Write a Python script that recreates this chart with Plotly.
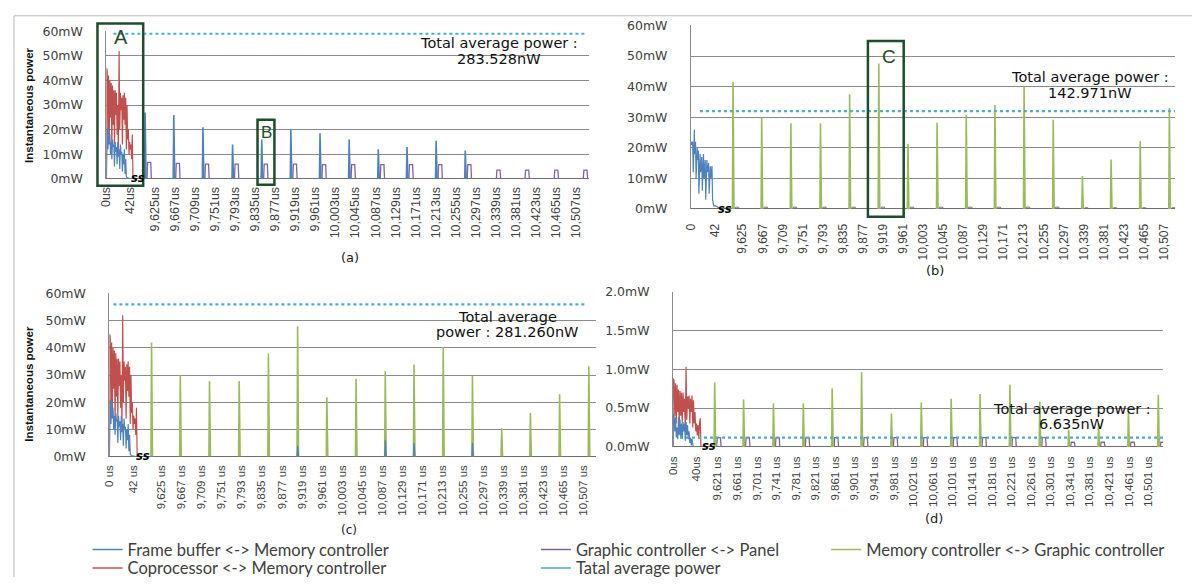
import plotly.graph_objects as go

W, H = 1192, 586

# ---------------- data ----------------
ticks_42 = [0, 42, 9625, 9667, 9709, 9751, 9793, 9835, 9877, 9919, 9961, 10003, 10045,
            10087, 10129, 10171, 10213, 10255, 10297, 10339, 10381, 10423, 10465, 10507]
ticks_40 = [0, 40, 9621, 9661, 9701, 9741, 9781, 9821, 9861, 9901, 9941, 9981, 10021,
            10061, 10101, 10141, 10181, 10221, 10261, 10301, 10341, 10381, 10421, 10461, 10501]

# event times (us) of the periodic transfers
spike_t = [9605, 9665, 9726, 9788, 9849, 9910, 9971, 10032, 10093, 10153, 10214, 10275,
           10336, 10396, 10457, 10518]
spike_t_d = [9615, 9674, 9735, 9796, 9855, 9915, 9976, 10037, 10098, 10157, 10218, 10279,
             10338, 10399, 10460, 10521]

# (a)
a_fb_spikes = [27, 26, 21, 14, 16, 20, 18.5, 16, 12, 13, 15.5, 11.5]
a_gp_pulses = [6.7, 6.3, 6, 6, 6, 6, 5.8, 5.8, 5.8, 5.8, 5.8, 5.8, 3.6, 3.6, 3.6, 3.6]
# (b)
b_mg_spikes = [41.6, 29.8, 28, 28, 37.5, 47.6, 21.3, 28.2, 30.8, 34, 40.3, 29.2, 10.8, 16.2, 22.2, 33]
b_gp_pulses = [0.6, 0.6, 0.6, 0.6, 0.6, 0.6, 0.6, 0.6, 0.6, 0.6, 0.6, 0.6, 0.4, 0.4, 0.4, 0.4]
# (c)
c_mg_spikes = [42, 30, 27.8, 27.8, 37.9, 47.9, 21.8, 28.6, 31.4, 33.9, 40.3, 29.6, 10.4, 16, 22.9, 33.2]
c_fb_spikes = [0, 0, 0, 0, 0, 4, 0, 0, 6, 5, 0, 5, 0, 0, 0, 0]
# (d)
d_mg_spikes = [0.83, 0.61, 0.56, 0.56, 0.75, 0.96, 0.43, 0.57, 0.62, 0.68, 0.80, 0.58, 0.22, 0.30, 0.46, 0.67]
d_gp_pulses = [0.12, 0.12, 0.12, 0.12, 0.12, 0.12, 0.12, 0.12, 0.12, 0.12, 0.12, 0.12, 0.06, 0.06, 0.06, 0.06]

# start-up section (0 .. ~50 us), panels (a) and (c)
ac_red_t = [0, 0.3, 1.5, 2.7, 3.9, 5.1, 6.3, 7.5, 8.7, 9.9, 11.1, 12.3, 13.5, 14.7, 15.9, 17.1,
            18.3, 19.5, 20.7, 21.9, 23.1, 24.3, 25.5, 26.7, 27.9, 29.1, 30.3, 31.5, 32.7, 33.9,
            35.1, 36.3, 37.5, 38.7, 39.9, 41.1, 42.3, 43.5, 44.7, 45.9, 47.1, 48.3, 49.0]
ac_red_v = [0, 45, 44, 20, 42, 15, 40, 25, 39, 12, 38, 22, 36, 14, 36, 26, 35, 18, 30, 10,
            52, 20, 35, 28, 33, 14, 34, 24, 35, 22, 33, 12, 30, 16, 20, 10, 15, 12, 14, 8,
            18, 0, 0]
ac_blue_t = [0, 0.3, 1.5, 2.7, 3.9, 5.1, 6.3, 7.5, 8.7, 9.9, 11.1, 12.3, 13.5, 14.7, 15.9, 17.1,
             18.3, 19.5, 20.7, 21.9, 23.1, 24.3, 25.5, 26.7, 27.9, 29.1, 30.3, 31.5, 32.7, 33.9,
             35.1, 36.3, 37.5, 40, 46]
ac_blue_v = [0, 21, 21, 12, 20, 14, 18, 10, 15, 8, 16, 13, 14, 5, 15, 11, 13, 6, 15, 9,
             12, 4, 14, 10, 11, 3, 10, 6, 12, 2, 8, 1, 0.5, 0.3, 0]
# panel (b)
b_blue_t = [0, 1, 3, 4, 6, 6.5, 8, 9, 11, 12, 13, 14, 16, 17, 19, 20, 22, 23, 25, 26, 28, 29,
            31, 32, 34, 35, 37, 38, 40, 44, 48, 52]
b_blue_v = [22, 21, 22, 12, 26, 18, 22, 10, 20, 16, 19, 5, 18, 12, 17, 6, 18, 10, 16, 3,
            16, 12, 15, 5, 14, 10, 14, 3, 1, 1, 0.5, 0]
# panel (d)
d_red_t = [0, 0.3, 1.7, 3.0, 4.3, 5.6, 6.9, 8.2, 9.5, 10.8, 12.1, 13.4, 14.7, 16.0, 17.4, 18.7,
           20.0, 21.4, 22.7, 24.0, 25.3, 26.6, 27.9, 29.2, 30.5, 31.8, 33.1, 34.4, 35.7, 37.0,
           38.3, 39.6, 40.9, 42.2, 43.5, 44.8, 46.1, 47.4, 48.7, 49.2]
d_red_v = [0, 0.88, 0.86, 0.4, 0.82, 0.3, 0.8, 0.45, 0.74, 0.25, 0.72, 0.4, 0.7, 0.3, 0.7, 0.45,
           0.62, 0.2, 1.03, 0.35, 0.65, 0.5, 0.66, 0.3, 0.62, 0.45, 0.66, 0.25, 0.6, 0.3,
           0.45, 0.2, 0.3, 0.15, 0.28, 0.1, 0.3, 0.37, 0, 0]
d_blue_t = [0, 0.3, 1.7, 3.0, 4.3, 5.6, 6.9, 8.2, 9.5, 10.8, 12.1, 13.4, 14.7, 16.0, 17.4, 18.7,
            20.0, 21.4, 22.7, 24.0, 25.3, 26.6, 27.9, 29.2, 30.5, 31.8, 33.1, 35, 38, 46]
d_blue_v = [0, 0.42, 0.4, 0.2, 0.38, 0.12, 0.25, 0.1, 0.38, 0.15, 0.35, 0.12, 0.3, 0.1, 0.32, 0.2,
            0.3, 0.08, 0.32, 0.15, 0.28, 0.1, 0.2, 0.05, 0.12, 0.02, 0.1, 0.01, 0, 0]

# total average power line (value, start us, end us)
avg_a = [59, 12.7, 10527]
avg_b = [32, 15.7, 10530]
avg_c = [56, 6.9, 10513]
avg_d = [0.12, 12.1, 10539]

avg_text = ["Total average power :", "283.528nW", "Total average power :", "142.971nW",
            "Total average", "power : 281.260nW", "Total average power :", "6.635nW"]

# ---------------- styles ----------------
C_FB = "#4F81BD"
C_CP = "#C0504D"
C_GP = "#8064A2"
C_MG = "#9BBB59"
C_AV = "#4BACC6"
GRID = "#8a8a8a"
TXT = "#404040"

NAMES = {"fb": "Frame buffer <-> Memory controller", "cp": "Coprocessor <-> Memory controller",
         "gp": "Graphic controller <-> Panel", "mg": "Memory controller <-> Graphic controller",
         "av": "Tatal average power"}

# broken time axis: t -> display position
PANELS = {
    "a": dict(k1=1.15, G=101.0, T0=9625, xmax=1009, dom_x=(100, 585), dom_y=(24, 176), ymax=60, xpad=2),
    "b": dict(k1=1.19, G=108.0, T0=9625, xmax=1013, dom_x=(688, 1175), dom_y=(18, 207), ymax=60, xpad=9),
    "c": dict(k1=1.20, G=108.0, T0=9625, xmax=1015, dom_x=(103, 592), dom_y=(294, 462), ymax=60, xpad=3),
    "d": dict(k1=1.17, G=91.0, T0=9621, xmax=1001, dom_x=(670, 1163), dom_y=(292, 452), ymax=2, xpad=4),
}
AX = {"a": ("x", "y"), "b": ("x2", "y2"), "c": ("x3", "y3"), "d": ("x4", "y4")}


def disp(p, ts):
    P = PANELS[p]
    out = []
    for t in ts:
        if t is None:
            out.append(None)
        elif t < 1000:
            out.append(t * P["k1"])
        else:
            out.append(P["G"] + (t - P["T0"]))
    return out


def spikes(times, heights, before=1.2, after=2.0):
    xs, ys = [], []
    for t, h in zip(times, heights):
        if h <= 0:
            continue
        xs += [t - before, t, t + after, None]
        ys += [0, h, 0, None]
    return xs, ys


def pulses(times, heights, offset=4.0, width=9.0):
    xs, ys = [], []
    for t, h in zip(times, heights):
        s = t + offset
        xs += [s, s + 1.2, s + width - 1.2, s + width, None]
        ys += [0, h, h, 0, None]
    return xs, ys


fig = go.Figure()


def add(p, xs, ys, color, width=1.4, dash=None):
    xa, ya = AX[p]
    fig.add_trace(go.Scatter(x=disp(p, xs), y=ys, mode="lines", xaxis=xa, yaxis=ya,
                             line=dict(color=color, width=width, dash=dash),
                             showlegend=False, hoverinfo="skip", connectgaps=False))


def add_avg(p, avg):
    add(p, [avg[1], avg[2]], [avg[0], avg[0]], C_AV, width=2.2, dash="dot")


# panel (a)
add("a", *pulses(spike_t, a_gp_pulses), C_GP, 1.3)
add("a", *spikes(spike_t[:len(a_fb_spikes)], a_fb_spikes), C_FB, 1.6)
add("a", ac_red_t, ac_red_v, C_CP, 1.2)
add("a", ac_blue_t, ac_blue_v, C_FB, 1.2)
add_avg("a", avg_a)
# panel (b)
add("b", *pulses(spike_t, b_gp_pulses), "#707070", 1.0)
add("b", *spikes(spike_t, b_mg_spikes), C_MG, 1.6)
add("b", b_blue_t, b_blue_v, C_FB, 1.2)
add_avg("b", avg_b)
# panel (c)
add("c", *spikes(spike_t, c_mg_spikes), C_MG, 1.6)
add("c", *spikes(spike_t, c_fb_spikes), C_FB, 1.2)
add("c", ac_red_t, ac_red_v, C_CP, 1.2)
add("c", ac_blue_t, ac_blue_v, C_FB, 1.2)
add_avg("c", avg_c)
# panel (d)
add("d", *pulses(spike_t_d, d_gp_pulses), C_GP, 1.3)
add("d", *spikes(spike_t_d, d_mg_spikes), C_MG, 1.6)
add("d", d_red_t, d_red_v, C_CP, 1.2)
add("d", d_blue_t, d_blue_v, C_FB, 1.2)
add_avg("d", avg_d)

# legend-only entries, each in its own legend box (placed like the original)
LEG = [("fb", C_FB, "legend", 81, 558), ("cp", C_CP, "legend2", 81, 577),
       ("gp", C_GP, "legend3", 532, 558), ("av", C_AV, "legend4", 532, 577),
       ("mg", C_MG, "legend5", 824, 558)]
for key, col, lg, _, _ in LEG:
    fig.add_trace(go.Scatter(x=[None], y=[None], mode="lines", name=NAMES[key],
                             line=dict(color=col, width=1.5), legend=lg, showlegend=True))

# ---------------- axes ----------------
layout = {}
for p, P in PANELS.items():
    xa, ya = AX[p]
    xk = "xaxis" + xa[1:]
    yk = "yaxis" + ya[1:]
    if p == "d":
        tv = ticks_40
        tt = ["0us", "40us"] + [f"{v:,} us" for v in tv[2:]]
        yv = [0, 0.5, 1.0, 1.5, 2.0]
        yt = [f"{v:.1f}mW" for v in yv]
        fs = 11.5
    else:
        tv = ticks_42
        if p == "a":
            tt = [f"{v:,}us" for v in tv]
            fs = 12.5
        elif p == "b":
            tt = [f"{v:,}" for v in tv]
            fs = 12
        else:
            tt = [f"{v:,} us" for v in tv]
            fs = 11.5
        yv = [0, 10, 20, 30, 40, 50, 60]
        yt = [f"{v}mW" for v in yv]
    x0, x1 = P["dom_x"]
    y0, y1 = P["dom_y"]
    layout[xk] = dict(domain=[x0 / W, x1 / W], range=[0, P["xmax"]], anchor=ya,
                      tickmode="array", tickvals=disp(p, tv), ticktext=tt, tickangle=-90,
                      showgrid=False, zeroline=False, showline=False,
                      ticks="outside", ticklen=P["xpad"], tickcolor="rgba(0,0,0,0)",
                      tickfont=dict(family="Liberation Sans", size=fs, color=TXT))
    layout[yk] = dict(domain=[1 - y1 / H, 1 - y0 / H], range=[0, P["ymax"]], anchor=xa,
                      tickmode="array", tickvals=yv, ticktext=yt,
                      showgrid=True, gridcolor=GRID, gridwidth=1,
                      zeroline=True, zerolinecolor="#6f6f6f", zerolinewidth=1.2,
                      showline=True, linecolor="#8a8a8a", linewidth=1,
                      ticks="outside", ticklen=20, tickcolor="rgba(0,0,0,0)",
                      tickfont=dict(family="DejaVu Sans", size=12.5, color=TXT))

# ---------------- annotations ----------------
ann = []


def pa(x, y, text, size, color="#111111", family="DejaVu Sans", angle=0, bold=False, **kw):
    ann.append(dict(x=x / W, y=1 - y / H, xref="paper", yref="paper", text=f"<b>{text}</b>" if bold else text,
                    showarrow=False, textangle=angle, font=dict(family=family, size=size, color=color),
                    xanchor="center", yanchor="middle", **kw))


# total average power texts
pa(495, 36, avg_text[0], 14.5)
pa(495, 53, avg_text[1], 14.5)
pa(1089, 71, avg_text[2], 14.5)
pa(1089, 88, avg_text[3], 14.5)
pa(503, 318, avg_text[4], 14.5)
pa(503, 334, avg_text[5], 14.5)
pa(1071, 413, avg_text[6], 14.5)
pa(1071, 428, avg_text[7], 14.5)
# y axis titles
pa(22, 100, "Instantaneous power", 11.5, color="#111111", family="Liberation Sans", angle=-90, bold=True)
pa(22, 387, "Instantaneous power", 11.5, color="#111111", family="Liberation Sans", angle=-90, bold=True)
# panel captions
pa(345, 257, "(a)", 13, color="#222222")
pa(933, 270, "(b)", 13, color="#222222")
pa(344, 538, "(c)", 12, color="#222222")
pa(932, 526, "(d)", 13, color="#222222")
# axis-break marks
for bx, by in [(132, 175), (722, 207), (137, 461), (706, 451)]:
    pa(bx, by, "<i>ss</i>", 11.5, color="#000000", bold=True)
# box letters
pa(115, 30, "A", 20, color="#1e4d2b", family="Liberation Sans")
pa(261, 128, "B", 17, color="#1e4d2b", family="Liberation Sans")
pa(887, 50, "C", 19, color="#1e4d2b", family="Liberation Sans")

shapes = []


def prect(x0, y0, x1, y1, color="#1e4d2b", width=2.5):
    shapes.append(dict(type="rect", xref="paper", yref="paper", x0=x0 / W, x1=x1 / W,
                       y0=1 - y1 / H, y1=1 - y0 / H, line=dict(color=color, width=width)))


def pline(x0, y0, x1, y1, color="#b8b8b8", width=1):
    shapes.append(dict(type="line", xref="paper", yref="paper", x0=x0 / W, x1=x1 / W,
                       y0=1 - y0 / H, y1=1 - y1 / H, line=dict(color=color, width=width)))


pline(7, 8, 1192, 8)
pline(7, 8, 7, 586)
prect(91, 16, 137, 183)
prect(252, 115, 269, 182)
prect(866, 34, 902, 215)

legend_common = dict(bgcolor="rgba(0,0,0,0)", font=dict(family="Lato", size=16.5, color=TXT),
                     xanchor="left", yanchor="middle", tracegroupgap=0, itemwidth=30,
                     orientation="v")
legends = {}
for i, (key, col, lg, lx, ly) in enumerate(LEG):
    legends[lg] = dict(x=lx / W, y=1 - ly / H, **legend_common)

fig.update_layout(
    width=W, height=H, margin=dict(l=0, r=0, t=0, b=0),
    paper_bgcolor="white", plot_bgcolor="rgba(0,0,0,0)",
    annotations=ann, shapes=shapes,
    **legends,
    **layout,
)

fig.write_html("out.html", config={"displayModeBar": False},
               post_script="document.body.style.margin='0px';document.body.style.overflow='hidden';")
